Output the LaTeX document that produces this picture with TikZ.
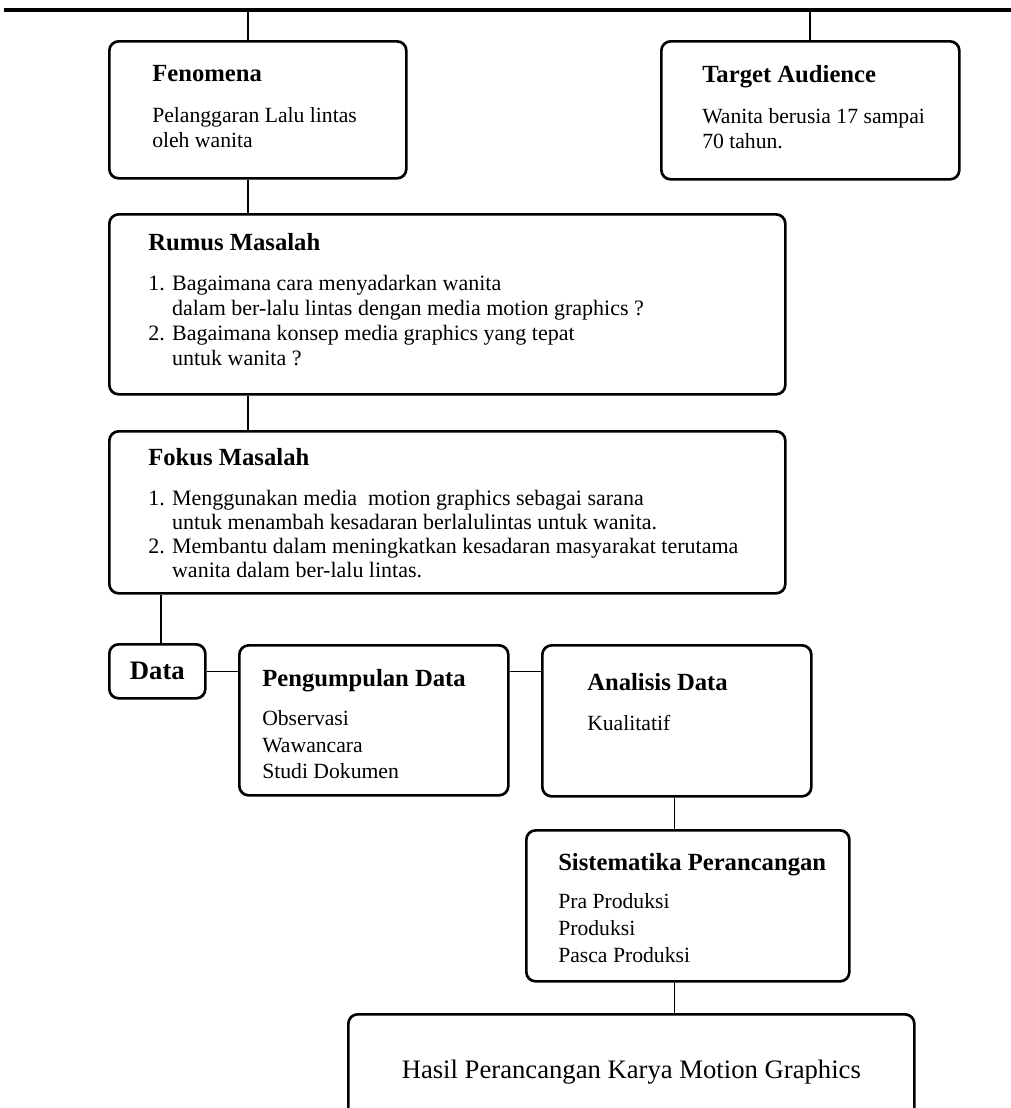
\documentclass[tikz,border=0pt]{standalone}
\usepackage{fontspec}
\setmainfont{Liberation Serif}
\usetikzlibrary{positioning}
\newcommand{\headfont}{\fontsize{18.5}{22}\selectfont\bfseries}

\begin{document}
\begin{tikzpicture}[
  x=0.75pt, y=-0.75pt,
  panel/.style={draw, line width=2pt, rounded corners=7pt, inner sep=0pt,
                anchor=north west},
  txt/.style={inner sep=0pt, align=left,
              font=\fontsize{16.25}{18.75}\selectfont},
  listtxt/.style={txt, font=\fontsize{16.5}{18.75}\selectfont},
  link/.style={line width=1pt},
  bar/.style={line width=3pt}
]
\useasboundingbox (0,0) rectangle (1011,1108);
\node[panel, minimum width=222.75pt, minimum height=102.75pt] (fen) at (108,40) {};
\node[panel, minimum width=223.5pt, minimum height=103.5pt] (aud) at (660,40) {};
\node[panel, minimum width=507pt, minimum height=135pt] (rum) at (108,213) {};
\node[panel, minimum width=507pt, minimum height=121.5pt] (fok) at (108,430) {};
\node[panel, minimum width=72pt, minimum height=40.5pt,
      font=\fontsize{20}{24}\selectfont\bfseries] (dat) at (108,643) {Data};
\node[panel, minimum width=201.75pt, minimum height=112.5pt] (pen) at (238,644) {};
\node[panel, minimum width=201.75pt, minimum height=113.25pt] (ana) at (541,644) {};
\node[panel, minimum width=242.25pt, minimum height=113.25pt] (sis) at (525,829) {};
\node[panel, minimum width=424.5pt, minimum height=87pt,
      font=\fontsize{20}{24}\selectfont] (has) at (347,1013) {Hasil Perancangan Karya Motion Graphics};

\node[txt, below right=19.1pt and 33pt of fen.north west] (fentxt)
  {{\headfont Fenomena}\\[12pt]Pelanggaran Lalu lintas\\oleh wanita};
\node[txt, below right=19.1pt and 31.5pt of aud.north west] (audtxt)
  {{\headfont Target Audience}\\[12pt]Wanita berusia 17 sampai\\70 tahun.};
\node[listtxt, below right=15.4pt and 30pt of rum.north west] (rumtxt)
  {{\headfont Rumus Masalah}\\[11.25pt]1. Bagaimana cara menyadarkan wanita\\
   \phantom{1. }dalam ber-lalu lintas dengan media motion graphics ?\\
   2. Bagaimana konsep media graphics yang tepat\\
   \phantom{2. }untuk wanita ?};
\node[listtxt, font=\fontsize{16.5}{18}\selectfont,
      below right=13.9pt and 30pt of fok.north west] (foktxt)
  {{\headfont Fokus Masalah}\\[12pt]1. Menggunakan media \ motion graphics sebagai sarana\\
   \phantom{1. }untuk menambah kesadaran berlalulintas untuk wanita.\\
   2. Membantu dalam meningkatkan kesadaran masyarakat terutama\\
   \phantom{2. }wanita dalam ber-lalu lintas.};
\node[txt, font=\fontsize{16.25}{19.9}\selectfont,
      below right=19.1pt and 18pt of pen.north west] (pentxt)
  {{\headfont Pengumpulan Data}\\[9.35pt]Observasi\\Wawancara\\Studi Dokumen};
\node[txt, below right=22.1pt and 34.5pt of ana.north west] (anatxt)
  {{\headfont Analisis Data}\\[11.25pt]Kualitatif};
\node[txt, font=\fontsize{16.25}{20.25}\selectfont,
      below right=18.4pt and 24.75pt of sis.north west] (sistxt)
  {{\headfont Sistematika Perancangan}\\[8.25pt]Pra Produksi\\Produksi\\Pasca Produksi};

\coordinate (topl) at (4,10);
\coordinate (topr) at (1011,10);
\coordinate (lspine) at (248,10);
\coordinate (rspine) at (810,10);
\coordinate (dspine) at (161,0);
\draw[bar] (topl) -- (topr);
\draw[link] (lspine) -- (lspine |- fen.north);
\draw[link] (rspine) -- (rspine |- aud.north);
\draw[link] (fen.south -| lspine) -- (rum.north -| lspine);
\draw[link] (rum.south -| lspine) -- (fok.north -| lspine);
\draw[link] (fok.south -| dspine) -- (dat.north -| dspine);
\draw[link] (dat.east) -- (pen.west |- dat.east);
\draw[link] (pen.east |- dat.east) -- (ana.west |- dat.east);
\draw[link] ([xshift=-2pt]ana.south) -- ([xshift=-2pt]ana.south |- sis.north);
\draw[link] ([xshift=-2pt]ana.south |- sis.south) -- ([xshift=-2pt]ana.south |- has.north);
\end{tikzpicture}
\end{document}
